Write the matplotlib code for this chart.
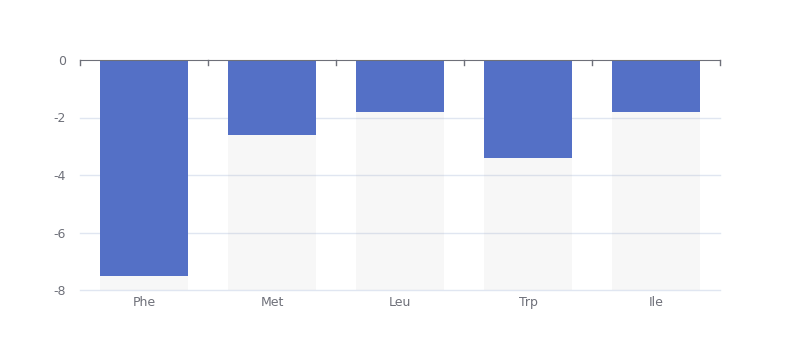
import matplotlib.pyplot as plt

categories = ['Phe', 'Met', 'Leu', 'Trp', 'Ile']
values = [-7.5, -2.6, -1.8, -3.4, -1.8]
y_ticks = [0, -2, -4, -6, -8]

BAR_COLOR = '#5470c6'
BG_COLOR = (180 / 255, 180 / 255, 180 / 255, 0.1)
GRID_COLOR = '#e0e6f1'
AXIS_COLOR = '#6e7079'

fig = plt.figure(figsize=(8, 3.6), dpi=100)
ax = fig.add_axes([0.1, 70 / 360, 0.8, 230 / 360])

x = list(range(len(categories)))
width = 0.69

# background bars (full range) then value bars
ax.bar(x, [min(y_ticks)] * len(x), width=width, color=BG_COLOR, zorder=1)
ax.bar(x, values, width=width, color=BAR_COLOR, zorder=2)

ax.set_xlim(-0.5, len(x) - 0.5)
ax.set_ylim(min(y_ticks), 0)
ax.set_yticks(y_ticks)
ax.set_yticklabels([str(v) for v in y_ticks])
ax.tick_params(axis='y', length=0, labelsize=9, colors=AXIS_COLOR, pad=10)

# horizontal grid lines, not clipped so the bottom one shows fully
for v in y_ticks[1:]:
    ax.axhline(v, color=GRID_COLOR, linewidth=1, zorder=0, clip_on=False)

for s in ['left', 'right', 'bottom']:
    ax.spines[s].set_visible(False)
ax.spines['top'].set_color(AXIS_COLOR)
ax.spines['top'].set_zorder(3)

# category labels at the bottom
ax.set_xticks([])
for i, c in enumerate(categories):
    ax.text(i, -8.2, c, ha='center', va='top', fontsize=9, color=AXIS_COLOR)

# boundary ticks on the zero axis line
for b in [i - 0.5 for i in range(len(x) + 1)]:
    ax.plot([b, b], [0, -0.17], color=AXIS_COLOR, linewidth=1, zorder=3, clip_on=False)

fig.savefig('out.png', dpi=100)
